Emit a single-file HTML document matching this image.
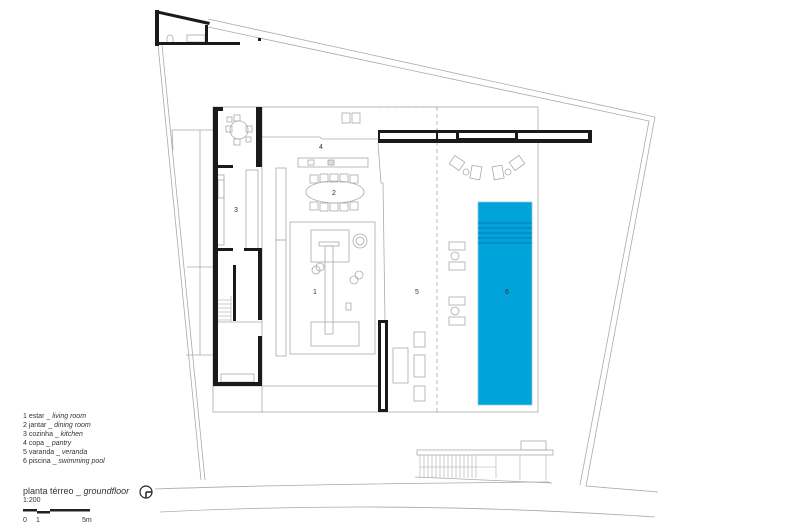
<!DOCTYPE html>
<html><head><meta charset="utf-8"><style>
html,body{margin:0;padding:0;background:#fff;width:800px;height:530px;overflow:hidden}
svg{display:block}
text{font-family:"Liberation Sans",sans-serif;fill:#333}
</style></head><body>
<svg width="800" height="530" viewBox="0 0 800 530" xmlns="http://www.w3.org/2000/svg">
<g fill="none" stroke="#aaa" stroke-width="0.8">
<polyline points="208,19 655,117 586,486 658,492"/>
<polyline points="208,27 649,121 580,485"/>
<line x1="158" y1="45" x2="201" y2="480"/>
<line x1="162" y1="45" x2="205" y2="480"/>
<path d="M155,489 Q300,484 550,482"/>
<path d="M415,477 L552,483"/>
<path d="M160,512 Q400,500 655,517"/>
<rect x="213" y="107" width="325" height="305"/>
<line x1="262" y1="107" x2="262" y2="412"/>
<line x1="262" y1="137" x2="320" y2="137"/>
<line x1="320" y1="137" x2="322" y2="139"/>
<line x1="322" y1="139" x2="378" y2="139"/>
<line x1="213" y1="386" x2="262" y2="386"/>
<line x1="262" y1="386" x2="378" y2="386"/>
<polyline points="172,130 213,130"/>
<line x1="200" y1="130" x2="200" y2="355"/>
<line x1="172" y1="130" x2="173" y2="150"/>
<line x1="186" y1="355" x2="213" y2="355"/>
<line x1="187" y1="267" x2="213" y2="267"/>
<rect x="216" y="175" width="8" height="70"/>
<rect x="246" y="170" width="12" height="80"/>
<rect x="218" y="180" width="6" height="18"/>
<rect x="276" y="168" width="10" height="72"/>
<rect x="276" y="240" width="10" height="116"/>
<rect x="290" y="222" width="85" height="132"/>
<rect x="311" y="230" width="38" height="32"/>
<rect x="319" y="242" width="20" height="4"/>
<rect x="325" y="246" width="8" height="88"/>
<rect x="311" y="322" width="48" height="24"/>
<circle cx="360" cy="241" r="7"/><circle cx="360" cy="241" r="4"/>
<circle cx="316" cy="270" r="4"/><circle cx="320" cy="267" r="4"/>
<circle cx="354" cy="280" r="4"/><circle cx="359" cy="275" r="4"/>
<rect x="346" y="303" width="5" height="7"/>
<rect x="298" y="158" width="70" height="9"/>
<rect x="308" y="160" width="6" height="5"/>
<rect x="328" y="160" width="6" height="5" fill="#ddd"/>
<rect x="342" y="113" width="8" height="10"/><rect x="352" y="113" width="8" height="10"/>
<ellipse cx="335" cy="192" rx="29" ry="11"/>
<rect x="310" y="175" width="8" height="8"/><rect x="320" y="174" width="8" height="8"/><rect x="330" y="174" width="8" height="8"/><rect x="340" y="174" width="8" height="8"/><rect x="350" y="175" width="8" height="8"/>
<rect x="310" y="202" width="8" height="8"/><rect x="320" y="203" width="8" height="8"/><rect x="330" y="203" width="8" height="8"/><rect x="340" y="203" width="8" height="8"/><rect x="350" y="202" width="8" height="8"/>
<circle cx="239" cy="130" r="9"/>
<rect x="226" y="126" width="6" height="6"/><rect x="246" y="126" width="6" height="6"/>
<rect x="234" y="115" width="6" height="6"/><rect x="234" y="139" width="6" height="6"/>
<rect x="227" y="117" width="5" height="5"/><rect x="246" y="137" width="5" height="5"/>
<g stroke-width="0.6"><line x1="216" y1="300" x2="231" y2="300"/><line x1="216" y1="304" x2="231" y2="304"/><line x1="216" y1="308" x2="231" y2="308"/><line x1="216" y1="312" x2="231" y2="312"/><line x1="216" y1="316" x2="231" y2="316"/><line x1="216" y1="320" x2="231" y2="320"/><line x1="231" y1="296" x2="231" y2="322"/></g>
<line x1="213" y1="322" x2="262" y2="322"/>
<rect x="221" y="374" width="33" height="8"/>
<polyline points="378,143 381,183 383,183 385,320"/>
<line x1="437" y1="107" x2="437" y2="412" stroke-dasharray="4,3"/>
<polyline points="379,107 437,107" stroke-dasharray="4,3"/>
<rect x="393" y="348" width="15" height="35"/>
<rect x="414" y="332" width="11" height="15"/>
<rect x="414" y="355" width="11" height="22"/>
<rect x="414" y="386" width="11" height="15"/>
<rect x="449" y="242" width="16" height="8"/><rect x="449" y="262" width="16" height="8"/><circle cx="455" cy="256" r="4"/>
<rect x="449" y="297" width="16" height="8"/><rect x="449" y="317" width="16" height="8"/><circle cx="455" cy="311" r="4"/>
<rect x="451" y="158" width="12" height="10" transform="rotate(35 457 163)"/>
<rect x="471" y="166" width="10" height="13" transform="rotate(10 476 172)"/>
<rect x="493" y="166" width="10" height="13" transform="rotate(-10 498 172)"/>
<rect x="511" y="158" width="12" height="10" transform="rotate(-35 517 163)"/>
<circle cx="466" cy="172" r="3"/><circle cx="508" cy="172" r="3"/>
<rect x="417" y="450" width="136" height="5"/>
<rect x="521" y="441" width="25" height="9"/>
<g stroke-width="0.6"><path d="M420,455 V478 M424,455 V478 M428,455 V478 M432,455 V478 M436,455 V478 M440,455 V478 M444,455 V478 M448,455 V478 M452,455 V478 M456,455 V478 M460,455 V478 M464,455 V478 M468,455 V478 M472,455 V478 M476,455 V478 M420,467 H496 M496,455 V478 M520,455 V480 M546,455 V481"/></g>
<rect x="187" y="35" width="18" height="7"/>
<path d="M167,44 V38 A3,3 0 0 1 173,38 V44"/>
</g>
<rect x="478" y="202" width="54" height="203" fill="#00a3da" stroke="#8fc8dc" stroke-width="0.8"/>
<g stroke="#0a6fa0" stroke-width="0.8"><line x1="478" y1="223" x2="532" y2="223"/><line x1="478" y1="228" x2="532" y2="228"/><line x1="478" y1="233" x2="532" y2="233"/><line x1="478" y1="238" x2="532" y2="238"/><line x1="478" y1="243" x2="532" y2="243"/></g>
<g fill="#1a1a1a">
<rect x="378" y="130" width="214" height="13"/>
<rect x="213" y="107" width="5" height="278"/>
<rect x="213" y="107" width="10" height="4"/>
<rect x="256" y="107" width="6" height="60"/>
<rect x="213" y="165" width="20" height="3"/>
<rect x="213" y="248" width="20" height="3"/>
<rect x="244" y="248" width="18" height="3"/>
<rect x="233" y="265" width="3" height="56"/>
<rect x="258" y="250" width="4" height="70"/>
<rect x="258" y="336" width="4" height="50"/>
<rect x="213" y="382" width="49" height="4"/>
<rect x="378" y="320" width="10" height="92"/>
<rect x="155" y="10" width="4" height="36"/>
<polygon points="155,10 210,22 209,25 155,13"/>
<rect x="155" y="42" width="85" height="3"/>
<rect x="205" y="25" width="3" height="20"/>
<rect x="258" y="38" width="3" height="3"/>
</g>
<g fill="#fff">
<rect x="380" y="133" width="56" height="6"/>
<rect x="438" y="133" width="18" height="6"/>
<rect x="459" y="133" width="56" height="5"/>
<rect x="518" y="133" width="70" height="6"/>
<rect x="381" y="323" width="4" height="86"/>
</g>
<g font-size="7" text-anchor="middle">
<text x="321" y="149">4</text><text x="334" y="195">2</text><text x="236" y="212">3</text>
<text x="315" y="294">1</text><text x="417" y="294">5</text><text x="507" y="294">6</text>
</g>
<g font-size="7">
<text x="23" y="418">1  estar _ <tspan font-style="italic">living room</tspan></text>
<text x="23" y="427">2  jantar _ <tspan font-style="italic">dining room</tspan></text>
<text x="23" y="436">3  cozinha _ <tspan font-style="italic">kitchen</tspan></text>
<text x="23" y="445">4  copa _ <tspan font-style="italic">pantry</tspan></text>
<text x="23" y="454">5  varanda _ <tspan font-style="italic">veranda</tspan></text>
<text x="23" y="463">6  piscina _ <tspan font-style="italic">swimming pool</tspan></text>
<text x="23" y="502">1:200</text>
<text x="23" y="522">0</text><text x="36" y="522">1</text><text x="82" y="522">5m</text>
</g>
<text x="23" y="494" font-size="9">planta térreo _ <tspan font-style="italic">groundfloor</tspan></text>
<circle cx="146" cy="492" r="6" fill="none" stroke="#222" stroke-width="1.2"/>
<line x1="146" y1="492" x2="152" y2="492" stroke="#222" stroke-width="1.5"/>
<line x1="146" y1="492" x2="146" y2="498" stroke="#222" stroke-width="1.5"/>
<g fill="#222"><rect x="23" y="509" width="14" height="2.5"/><rect x="37" y="511" width="13" height="2.5"/><rect x="50" y="509" width="40" height="2.5"/></g>
</svg>
</body></html>
